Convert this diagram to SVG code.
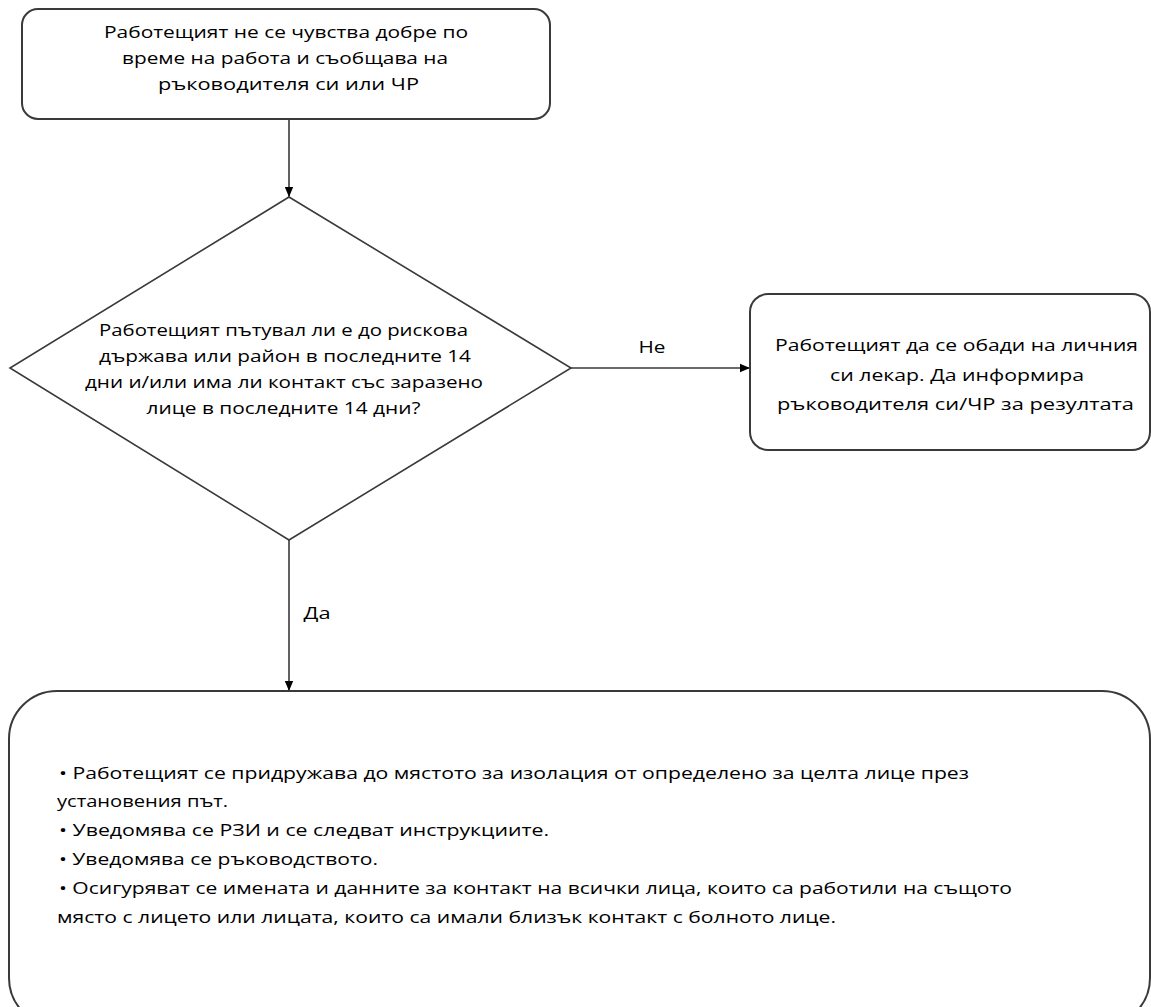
<svg xmlns="http://www.w3.org/2000/svg" width="1151" height="1007" viewBox="0 0 1151 1007">
  <defs>
    <marker id="arr" markerUnits="userSpaceOnUse" markerWidth="10" markerHeight="10" viewBox="0 0 10 10" refX="10" refY="5" orient="auto">
      <path d="M0,0.8 L10,5 L0,9.2 Z" fill="#000"/>
    </marker>
    <style>
      .box { fill: #fff; stroke: #3a3a3a; stroke-width: 2; }
      .conn { fill: none; stroke: #3a3a3a; stroke-width: 1.6; marker-end: url(#arr); }
      text { font-family: "Open Sans", "Liberation Sans", "Noto Sans CJK SC", sans-serif; font-size: 17px; fill: #000; }
      .c { text-anchor: middle; }
    </style>
  </defs>
  <rect width="1151" height="1007" fill="#fff"/>

  <g id="connectors">
    <line class="conn" x1="289" y1="119" x2="289" y2="197"/>
    <line class="conn" x1="571" y1="368" x2="750" y2="368"/>
    <line class="conn" x1="289" y1="540" x2="289" y2="691"/>
    <text x="652" y="353" class="c" textLength="27" lengthAdjust="spacingAndGlyphs">Не</text>
    <text x="317" y="619" class="c" textLength="27" lengthAdjust="spacingAndGlyphs">Да</text>
  </g>

  <g id="start">
    <rect class="box" x="22" y="9" width="528" height="110" rx="16"/>
    <text x="286" y="38" class="c" textLength="364" lengthAdjust="spacingAndGlyphs">Работещият не се чувства добре по</text>
    <text x="285" y="64" class="c" textLength="326" lengthAdjust="spacingAndGlyphs">време на работа  и съобщава на</text>
    <text x="288.5" y="90" class="c" textLength="261" lengthAdjust="spacingAndGlyphs">ръководителя си или ЧР</text>
  </g>

  <g id="decision">
    <polygon class="box" points="289,197 571,368 289,540 10,368" style="stroke-width:1.6"/>
    <text x="283.5" y="336" class="c" textLength="369" lengthAdjust="spacingAndGlyphs">Работещият пътувал ли е до рискова</text>
    <text x="285" y="362" class="c" textLength="372" lengthAdjust="spacingAndGlyphs">държава  или район в последните 14</text>
    <text x="284" y="388" class="c" textLength="398" lengthAdjust="spacingAndGlyphs">дни и/или има ли контакт със заразено</text>
    <text x="283.5" y="414" class="c" textLength="274" lengthAdjust="spacingAndGlyphs">лице в последните 14 дни?</text>
  </g>

  <g id="no-branch">
    <rect class="box" x="750" y="294" width="400" height="156" rx="18"/>
    <text x="956.5" y="351" class="c" textLength="363" lengthAdjust="spacingAndGlyphs">Работещият да се обади на личния</text>
    <text x="957" y="381" class="c" textLength="254" lengthAdjust="spacingAndGlyphs">си лекар. Да информира</text>
    <text x="955.5" y="410" class="c" textLength="357" lengthAdjust="spacingAndGlyphs">ръководителя си/ЧР за резултата</text>
  </g>

  <g id="yes-branch">
    <rect class="box" x="9" y="691" width="1141" height="335" rx="48"/>
    <text x="59" y="779" textLength="910" lengthAdjust="spacingAndGlyphs">•  Работещият се придружава до мястото за изолация от определено за целта лице през</text>
    <text x="57" y="807" textLength="171" lengthAdjust="spacingAndGlyphs">установения път.</text>
    <text x="59" y="836" textLength="490" lengthAdjust="spacingAndGlyphs">•  Уведомява се РЗИ и се следват инструкциите.</text>
    <text x="59" y="865" textLength="319" lengthAdjust="spacingAndGlyphs">•  Уведомява се ръководството.</text>
    <text x="59" y="894" textLength="953" lengthAdjust="spacingAndGlyphs">•  Осигуряват се имената и данните за контакт на всички лица, които са работили  на същото</text>
    <text x="57" y="923" textLength="779" lengthAdjust="spacingAndGlyphs">място с лицето или  лицата, които са имали близък контакт с болното лице.</text>
  </g>
</svg>
